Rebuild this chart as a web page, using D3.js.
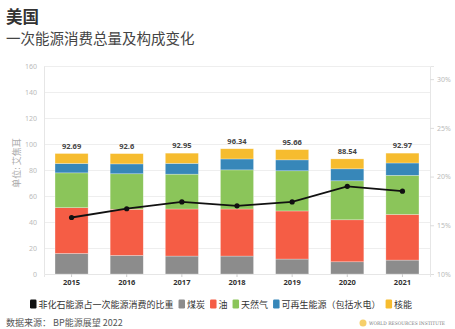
<!DOCTYPE html>
<html><head><meta charset="utf-8">
<script src="https://cdn.jsdelivr.net/npm/d3@7"></script>
<style>
body{margin:0;background:#fff;}
svg{display:block;font-family:"Noto Sans CJK SC","Noto Sans",sans-serif;}
</style></head>
<body><svg id="c" width="455" height="329"></svg>
<script>
const years = ["2015","2016","2017","2018","2019","2020","2021"];
const coal = [15.8, 14.3, 13.8, 13.8, 11.5, 9.4, 10.7];
const oil = [35.2, 35.5, 36.2, 36.2, 37.0, 32.3, 35.1];
const gas = [26.8, 27.3, 26.8, 30.1, 30.9, 30.0, 30.1];
const renew = [7.2, 7.6, 8.3, 8.4, 8.4, 9.2, 9.5];
const nuclear = [7.69, 7.9, 7.85, 7.84, 7.86, 7.64, 7.57];
const totals = ["92.69","92.6","92.95","96.34","95.66","88.54","92.97"];
const share = [15.8, 16.7, 17.4, 17.0, 17.4, 19.0, 18.5];
const leftTicks = [0,20,40,60,80,100,120,140,160];
const rightTicks = [10,15,20,25,30];
const seriesNames = ["煤炭","油","天然气","可再生能源（包括水电）","核能"];
const lineName = "非化石能源占一次能源消费的比重";
const colors = ["#8c8c8c","#f55d45","#8bc55a","#3787b9","#f6bc2f"];

const svg = d3.select("#c");
const L = 44, R = 430, T = 66, B = 274;
const x = d3.scaleBand().domain(years).range([L, R]).paddingInner(0.4).paddingOuter(0.2);
const y = d3.scaleLinear().domain([0,160]).range([B, T]);
const y2 = d3.scaleLinear().domain([10,31.35]).range([B, T]);

// titles
svg.append("text").attr("x",6).attr("y",23).attr("font-size",16.5).attr("font-weight","bold").attr("fill","#333").text("美国");
svg.append("text").attr("x",6).attr("y",44).attr("font-size",14.5).attr("fill","#444").text("一次能源消费总量及构成变化");

// grid
svg.append("g").selectAll("line").data(leftTicks.slice(1)).join("line")
  .attr("x1",L).attr("x2",R).attr("y1",d=>y(d)+0.5).attr("y2",d=>y(d)+0.5)
  .attr("stroke","#eeeeee").attr("stroke-width",1);

// left axis
const ga = svg.append("g").attr("transform",`translate(${L},0)`).call(d3.axisLeft(y).tickValues(leftTicks).tickSize(0).tickPadding(7));
ga.select(".domain").attr("stroke","#e6e6e6");
ga.selectAll("text").attr("fill","#bbb").attr("font-size",7).attr("font-family","Noto Sans, sans-serif");

// right axis
const gr = svg.append("g").attr("transform",`translate(${R},0)`).call(d3.axisRight(y2).tickValues(rightTicks).tickFormat(d=>d+"%").tickSize(4).tickPadding(3));
gr.select(".domain").attr("stroke","#e6e6e6");
gr.selectAll("line").attr("stroke","#ddd");
gr.selectAll("text").attr("fill","#bbb").attr("font-size",7).attr("font-family","Noto Sans, sans-serif");

// y title
svg.append("text").attr("transform","translate(20,163) rotate(-90)").attr("text-anchor","middle")
  .attr("font-size",9).attr("fill","#aaa").text("单位: 艾焦耳");

// stacked bars
const rows = years.map((yr,i)=>({year:yr, s0:coal[i], s1:oil[i], s2:gas[i], s3:renew[i], s4:nuclear[i]}));
const stack = d3.stack().keys(["s0","s1","s2","s3","s4"])(rows);
svg.append("g").selectAll("g").data(stack).join("g").attr("fill",(d,i)=>colors[i])
  .selectAll("rect").data(d=>d).join("rect")
  .attr("x",d=>x(d.data.year)).attr("width",x.bandwidth())
  .attr("y",d=>y(d[1])).attr("height",d=>y(d[0])-y(d[1]))
  .attr("stroke","#fff").attr("stroke-opacity",0.45).attr("stroke-width",0.6);

// x axis
const gx = svg.append("g").attr("transform",`translate(0,${B})`).call(d3.axisBottom(x).tickSize(3).tickPadding(3));
gx.select(".domain").attr("stroke","#e6e6e6");
gx.selectAll("line").attr("stroke","#ccc");
gx.selectAll("text").attr("fill","#333").attr("font-size",7.5).attr("font-weight","bold").attr("font-family","Noto Sans, sans-serif");

// totals
const tops = stack[4];
svg.append("g").selectAll("text").data(tops).join("text")
  .attr("x",d=>x(d.data.year)+x.bandwidth()/2).attr("y",d=>y(d[1])-5)
  .attr("text-anchor","middle").attr("font-size",7.5).attr("font-weight","bold").attr("fill","#444")
  .attr("font-family","Noto Sans, sans-serif")
  .text((d,i)=>totals[i]);

// share line
const line = d3.line().x((d,i)=>x(years[i])+x.bandwidth()/2).y(d=>y2(d));
svg.append("path").datum(share).attr("d",line).attr("fill","none").attr("stroke","#111").attr("stroke-width",1.8);
svg.append("g").selectAll("circle").data(share).join("circle")
  .attr("cx",(d,i)=>x(years[i])+x.bandwidth()/2).attr("cy",d=>y2(d)).attr("r",2.6).attr("fill","#111");

// legend
const items = [{n:lineName,c:"#111"}].concat(seriesNames.map((n,i)=>({n:n,c:colors[i]})));
const lg = svg.append("g");
let lx = 30; const ly = 304;
items.forEach(it=>{
  lg.append("rect").attr("x",lx).attr("y",ly-4.5).attr("width",6.5).attr("height",9).attr("rx",1.2).attr("fill",it.c);
  const t = lg.append("text").attr("x",lx+8.5).attr("y",ly+3.5).attr("font-size",9).attr("fill","#333").text(it.n);
  lx += 8.5 + t.node().getComputedTextLength() + 5;
});

// source
svg.append("text").attr("x",6).attr("y",326).attr("font-size",9).attr("fill","#555").text("数据来源： BP能源展望 2022");
svg.append("circle").attr("cx",363).attr("cy",323).attr("r",3.5).attr("fill","#f6cf6a");
svg.append("text").attr("x",369).attr("y",325).attr("font-size",4.8).attr("fill","#777")
  .attr("font-family","DejaVu Serif, serif").attr("textLength",76).attr("lengthAdjust","spacingAndGlyphs")
  .text("WORLD RESOURCES INSTITUTE");
</script></body></html>
